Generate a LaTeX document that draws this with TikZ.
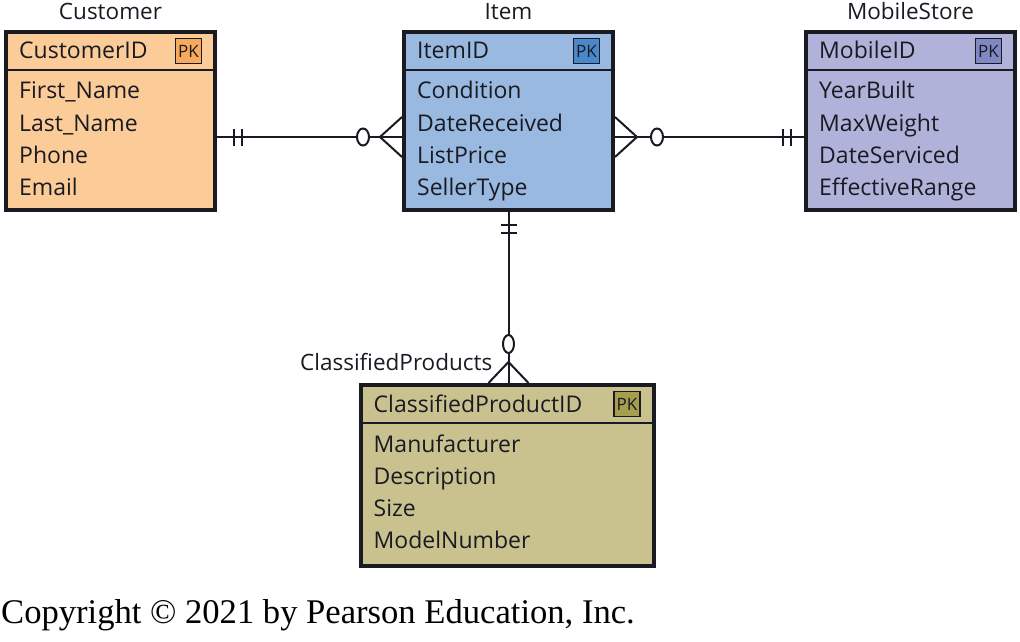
\documentclass[tikz,border=0pt]{standalone}
\usepackage{fontspec}
\setmainfont{Open Sans}
\newfontfamily\copyfont{Liberation Serif}
\usetikzlibrary{calc}
\definecolor{ink}{HTML}{1A1A22}
\definecolor{custfill}{HTML}{FBCB98}
\definecolor{custpk}{HTML}{F8AA5C}
\definecolor{itemfill}{HTML}{99B9E0}
\definecolor{itempk}{HTML}{4A88CC}
\definecolor{mobfill}{HTML}{B0B2DA}
\definecolor{mobpk}{HTML}{8088C4}
\definecolor{clsfill}{HTML}{C9C28E}
\definecolor{clspk}{HTML}{A49E4E}
\tikzset{entbox/.style={rectangle,draw=ink,line width=4pt,inner sep=0pt},
  sepline/.style={ink,line width=2.5pt},
  ttl/.style={font=\fontsize{22.5}{26}\selectfont,text=ink,inner sep=0pt},
  attr/.style={font=\fontsize{23}{27}\selectfont,text=ink,inner sep=0pt,anchor=base west},
  pkbox/.style={draw=ink,line width=1.2pt,minimum width=26pt,minimum height=25pt,
    inner sep=0pt,font=\fontsize{17}{19}\selectfont,text=ink},
  rel/.style={ink,line width=2pt}}
% #1 name, #2 centre, #3 width, #4 height, #5 fill, #6 PK fill, #7 key, #8 attributes
\newcommand{\entity}[8]{%
\node[entbox,fill=#5,minimum width=#3,minimum height=#4] (#1) at #2 {};
\draw[sepline] ([yshift=-40pt]#1.north west) -- ([yshift=-40pt]#1.north east);
\node[attr] (#1-k) at ([xshift=15pt,yshift=-29pt]#1.north west) {#7};
\node[pkbox,fill=#6,anchor=east] (#1-pk) at ([xshift=-15pt,yshift=-21pt]#1.north east) {PK};
\foreach \a [count=\i] in {#8}
  \node[attr] (#1-a\i) at ([xshift=15pt,yshift=-37pt-32pt*\i]#1.north west) {\a};
}

\begin{document}
\begin{tikzpicture}[x=1pt,y=-1pt]
\useasboundingbox (0,0) rectangle (1020,642);
\entity{cust}{(110.5,121)}{209pt}{178pt}{custfill}{custpk}{CustomerID}{First\_Name,Last\_Name,Phone,Email}
\entity{item}{(508.5,121)}{209pt}{178pt}{itemfill}{itempk}{ItemID}{Condition,DateReceived,ListPrice,SellerType}
\entity{mob}{(910.5,121)}{209pt}{178pt}{mobfill}{mobpk}{MobileID}{YearBuilt,MaxWeight,DateServiced,EffectiveRange}
\entity{cls}{(507,475.5)}{293pt}{181pt}{clsfill}{clspk}{ClassifiedProductID}{Manufacturer,Description,Size,ModelNumber}
\node[ttl,anchor=base] (cust-t) at ([yshift=10pt]cust.north) {Customer};
\node[ttl,anchor=base] (item-t) at ([yshift=10pt]item.north) {Item};
\node[ttl,anchor=base] (mob-t) at ([yshift=10pt]mob.north) {MobileStore};

% Customer -- Item
\draw[rel] ([yshift=-16pt]cust.east) coordinate (ci-a) -- ([yshift=-16pt]item.west) coordinate (ci-b);
\foreach \d in {17,25} \draw[rel] ([xshift=\d,yshift=-8.5pt]ci-a) -- ++(0,-17);
\draw[rel,fill=white] ([xshift=-39pt]ci-b) ellipse (6 and 8.5);
\draw[rel] ([yshift=20pt]ci-b) -- ([xshift=-22pt]ci-b) -- ([yshift=-20pt]ci-b);

% Item -- MobileStore
\draw[rel] ([yshift=-16pt]item.east) coordinate (im-a) -- ([yshift=-16pt]mob.west) coordinate (im-b);
\draw[rel] ([yshift=20pt]im-a) -- ([xshift=22pt]im-a) -- ([yshift=-20pt]im-a);
\draw[rel,fill=white] ([xshift=42pt]im-a) ellipse (6 and 8.5);
\foreach \d in {13,21} \draw[rel] ([xshift=-\d,yshift=-8.5pt]im-b) -- ++(0,-17);

% Item -- ClassifiedProducts
\draw[rel] (item.south) coordinate (ic-a) -- (item.south |- cls.north) coordinate (ic-b);
\foreach \d in {13,21} \draw[rel] ([xshift=-8pt,yshift=-\d]ic-a) -- ++(16,0);
\draw[rel,fill=white] ([yshift=39pt]ic-b) ellipse (5.5 and 9);
\draw[rel] ([xshift=-20pt]ic-b) -- ([yshift=21pt]ic-b) -- ([xshift=20pt]ic-b);
\node[ttl,anchor=base east] (cls-t) at ([xshift=-16pt,yshift=13pt]ic-b) {ClassifiedProducts};

\node[font=\copyfont\fontsize{34.6}{40}\selectfont,anchor=base west,inner sep=0pt] (copy)
  at (1,623) {Copyright © 2021 by Pearson Education, Inc.};
\end{tikzpicture}
\end{document}
